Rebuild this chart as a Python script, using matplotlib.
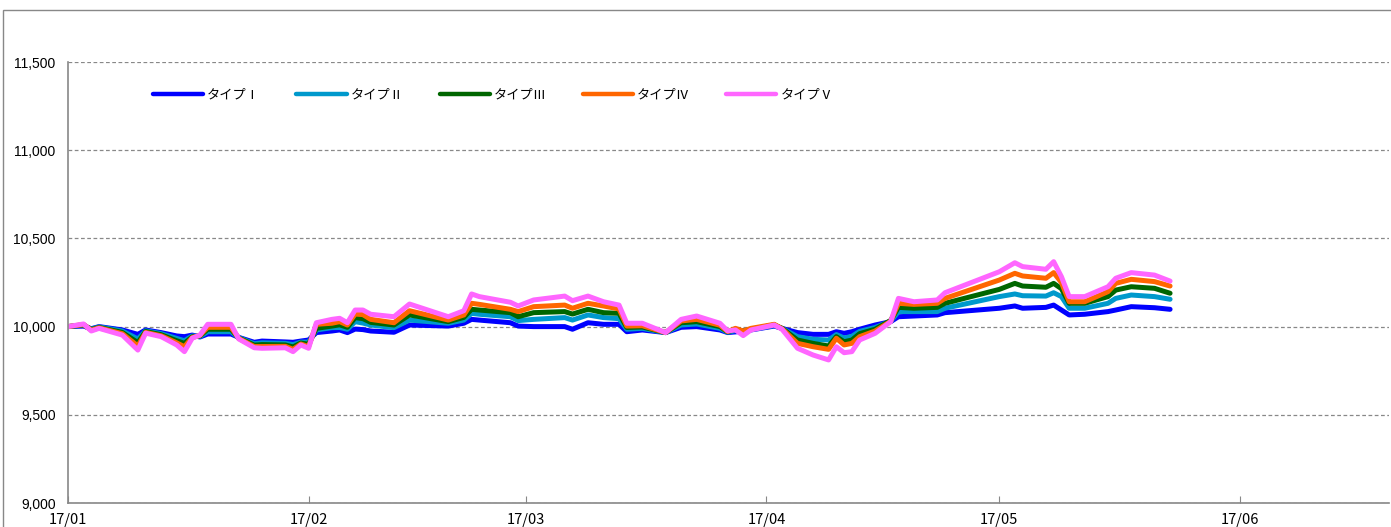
import numpy as np
import pandas as pd
import matplotlib
matplotlib.use('Agg')
import matplotlib.pyplot as plt
import matplotlib.dates as mdates
from matplotlib.ticker import FuncFormatter
from matplotlib.patches import Rectangle

# data
dates = ['2017-01-01', '2017-01-03', '2017-01-04', '2017-01-05', '2017-01-08', '2017-01-10',
         '2017-01-11', '2017-01-13', '2017-01-15', '2017-01-16', '2017-01-17', '2017-01-18',
         '2017-01-19', '2017-01-22', '2017-01-23', '2017-01-25', '2017-01-26', '2017-01-29',
         '2017-01-30', '2017-01-31', '2017-02-01', '2017-02-02', '2017-02-04', '2017-02-05',
         '2017-02-06', '2017-02-07', '2017-02-08', '2017-02-09', '2017-02-12', '2017-02-14',
         '2017-02-19', '2017-02-21', '2017-02-22', '2017-02-23', '2017-02-27', '2017-02-28',
         '2017-03-02', '2017-03-06', '2017-03-07', '2017-03-09', '2017-03-11', '2017-03-13',
         '2017-03-14', '2017-03-16', '2017-03-19', '2017-03-21', '2017-03-23', '2017-03-26',
         '2017-03-27', '2017-03-28', '2017-03-29', '2017-03-30', '2017-04-02', '2017-04-03',
         '2017-04-05', '2017-04-07', '2017-04-09', '2017-04-10', '2017-04-11', '2017-04-12',
         '2017-04-13', '2017-04-15', '2017-04-17', '2017-04-18', '2017-04-20', '2017-04-23',
         '2017-04-24', '2017-05-01', '2017-05-03', '2017-05-04', '2017-05-07', '2017-05-08',
         '2017-05-09', '2017-05-10', '2017-05-12', '2017-05-15', '2017-05-16', '2017-05-18',
         '2017-05-21', '2017-05-23']

type5 = [10000, 10015, 9975, 9990, 9952, 9867, 9963, 9943, 9896, 9858, 9934, 9952,
         10013, 10013, 9930, 9880, 9877, 9880, 9858, 9896, 9877, 10022, 10041, 10047,
         10022, 10094, 10094, 10070, 10056, 10128, 10056, 10090, 10185, 10170, 10138, 10117,
         10151, 10173, 10147, 10173, 10141, 10122, 10019, 10019, 9966, 10041, 10060, 10019,
         9975, 9981, 9949, 9981, 10009, 9985, 9877, 9839, 9811, 9886, 9852, 9858,
         9924, 9962, 10028, 10160, 10141, 10151, 10192, 10311, 10362, 10340, 10325, 10368,
         10283, 10170, 10170, 10226, 10274, 10306, 10292, 10258]
type4 = [10000, 10012, 9980, 9993, 9960, 9890, 9967, 9948, 9908, 9886, 9938, 9950,
         9996, 9996, 9933, 9887, 9887, 9888, 9871, 9901, 9887, 10013, 10019, 10028,
         10009, 10071, 10068, 10041, 10022, 10090, 10037, 10066, 10132, 10126, 10098, 10085,
         10113, 10122, 10104, 10132, 10117, 10100, 10003, 10005, 9966, 10032, 10041, 10008,
         9972, 9990, 9975, 9990, 10013, 9988, 9905, 9886, 9871, 9934, 9896, 9905,
         9943, 9975, 10030, 10132, 10126, 10132, 10160, 10264, 10302, 10287, 10274, 10306,
         10250, 10141, 10141, 10198, 10245, 10268, 10255, 10230]
type3 = [10000, 10010, 9983, 9995, 9967, 9909, 9972, 9954, 9920, 9905, 9942, 9947,
         9985, 9985, 9935, 9895, 9898, 9896, 9885, 9907, 9900, 9990, 10003, 10010,
         9996, 10051, 10045, 10024, 10009, 10066, 10028, 10052, 10098, 10094, 10079, 10056,
         10079, 10085, 10071, 10098, 10079, 10075, 9995, 9998, 9966, 10022, 10028, 10000,
         9970, 9985, 9975, 9985, 10010, 9990, 9924, 9905, 9890, 9943, 9914, 9924,
         9960, 9985, 10035, 10109, 10104, 10109, 10132, 10211, 10245, 10230, 10223, 10245,
         10215, 10132, 10132, 10170, 10207, 10226, 10217, 10189]
type2 = [10000, 10008, 9985, 9998, 9975, 9930, 9976, 9960, 9933, 9920, 9947, 9944,
         9971, 9971, 9937, 9903, 9908, 9905, 9898, 9912, 9912, 9981, 9994, 9995,
         9985, 10028, 10020, 10009, 9994, 10037, 10019, 10037, 10075, 10070, 10056, 10034,
         10041, 10051, 10037, 10066, 10051, 10045, 9985, 9990, 9966, 10009, 10015, 9990,
         9968, 9978, 9975, 9983, 10006, 9990, 9943, 9928, 9924, 9955, 9935, 9945,
         9973, 9995, 10030, 10085, 10085, 10085, 10104, 10170, 10185, 10175, 10173, 10192,
         10170, 10104, 10104, 10132, 10160, 10179, 10170, 10155]
type1 = [10000, 10003, 9988, 10000, 9981, 9956, 9981, 9966, 9947, 9943, 9952, 9941,
         9958, 9958, 9939, 9911, 9918, 9913, 9911, 9918, 9924, 9966, 9975, 9981,
         9966, 9986, 9983, 9975, 9968, 10009, 10003, 10019, 10041, 10037, 10022, 10003,
         10000, 10000, 9985, 10022, 10013, 10013, 9971, 9981, 9966, 9996, 10000, 9981,
         9966, 9970, 9975, 9981, 10003, 9990, 9966, 9956, 9956, 9971, 9962, 9971,
         9985, 10009, 10028, 10056, 10060, 10066, 10079, 10104, 10117, 10104, 10109, 10122,
         10094, 10066, 10070, 10085, 10094, 10113, 10107, 10098]

labels = ['タイプⅠ', 'タイプⅡ', 'タイプⅢ', 'タイプⅣ', 'タイプⅤ']
colors = ['#0000FF', '#0099CC', '#006600', '#FF6600', '#FF66FF']

x = pd.to_datetime(dates)
series = [type1, type2, type3, type4, type5]

fig = plt.figure(figsize=(13.91, 5.27), dpi=100)
ax = fig.add_axes([68 / 1391, 1 - 503 / 527, 1321 / 1391, 441 / 527])

# outer chart frame
fig.patches.append(Rectangle((3 / 1391, -0.01), 1.0, 1 - 10 / 527 + 0.01,
                             transform=fig.transFigure, fill=False,
                             edgecolor='#888888', linewidth=1.0))

for vals, lab, col in zip(series, labels, colors):
    ax.plot(x, vals, color=col, linewidth=3.6, label=lab,
            solid_joinstyle='round', solid_capstyle='round')

ax.set_ylim(9000, 11500)
ax.set_xlim(pd.Timestamp('2017-01-01'), pd.Timestamp('2017-06-20 05:00'))
ax.set_yticks([9000, 9500, 10000, 10500, 11000, 11500])
ax.yaxis.set_major_formatter(FuncFormatter(lambda v, p: f'{int(v):,}'))
ax.grid(axis='y', linestyle=(0, (3, 2)), color='#888888', linewidth=0.9)
ax.set_axisbelow(True)

ax.xaxis.set_major_locator(mdates.MonthLocator())
ax.xaxis.set_major_formatter(mdates.DateFormatter('%y/%m'))

for s in ['top', 'right']:
    ax.spines[s].set_visible(False)
for s in ['left', 'bottom']:
    ax.spines[s].set_color('#888888')
    ax.spines[s].set_linewidth(1.2)

ax.tick_params(axis='y', length=0, pad=9, labelsize=10)
ax.tick_params(axis='x', direction='in', length=5, color='#888888', pad=7, labelsize=10.5)
for t in ax.get_yticklabels():
    t.set_family('Liberation Sans')
for t in ax.get_xticklabels():
    t.set_family('Noto Sans CJK JP')

leg = ax.legend(loc='center left', bbox_to_anchor=((153 - 68) / 1321, (503 - 95) / 441),
                ncol=5, frameon=False, borderpad=0, borderaxespad=0,
                handlelength=3.8, handletextpad=0.3, columnspacing=2.75,
                prop={'family': ['Noto Sans CJK JP', 'DejaVu Sans'], 'size': 9.5})
for line in leg.get_lines():
    line.set_linewidth(3.2)

fig.savefig('out.png', dpi=100)
